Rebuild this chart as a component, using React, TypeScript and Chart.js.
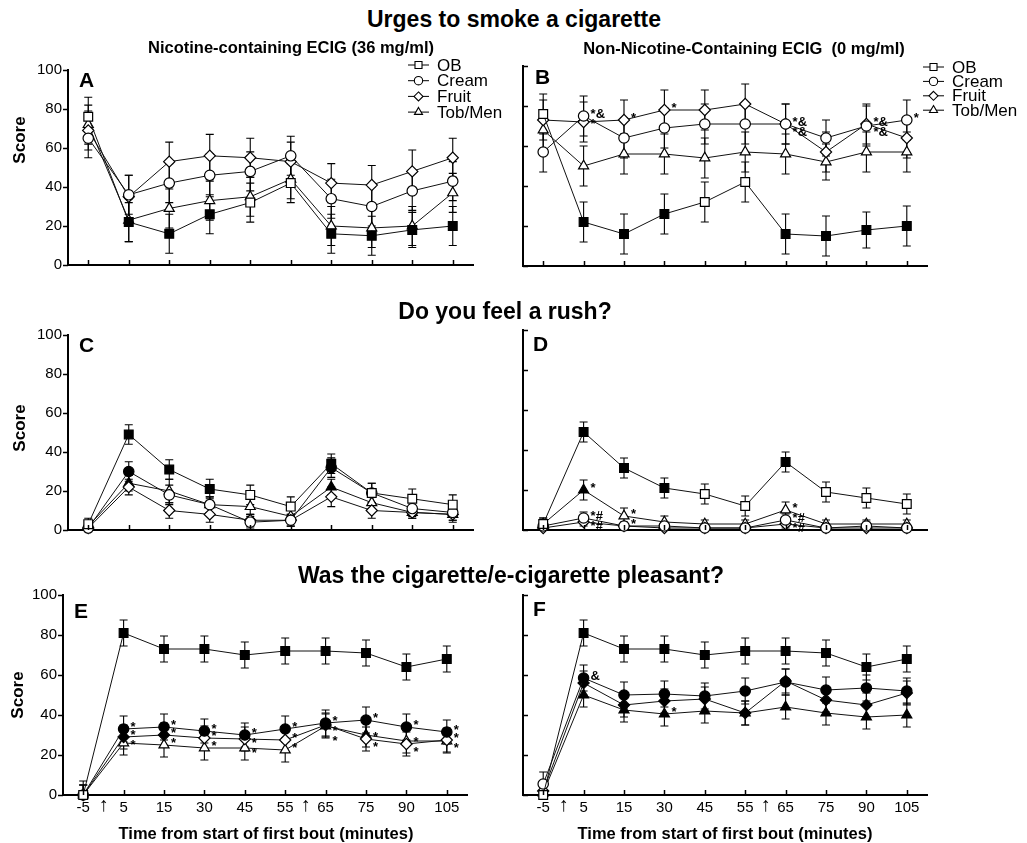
import React, { useEffect, useRef } from 'react';
import { Chart, registerables } from 'chart.js';

Chart.register(...registerables);

const FONT = "'Liberation Sans', Arial, Helvetica, sans-serif";

// ---------- categories ----------
const TIMES = ['-5', '5', '15', '30', '45', '55', '65', '75', '90', '105'];
const SERIES = ['OB', 'Cream', 'Fruit', 'Tob/Men'];
const Y_TICKS = [0, 20, 40, 60, 80, 100];

// ---------- Urges to smoke (A: 36 mg/ml, B: 0 mg/ml) ----------
const urgeOB = [76, 22, 16, 26, 32, 42, 16, 15, 18, 20];
const urgeOBSem = [10, 10, 10, 10, 10, 10, 10, 10, 9, 10];
const urgeOBFilled = [0, 1, 1, 1, 0, 0, 1, 1, 1, 1];

const urgeCream36 = [65, 36, 42, 46, 48, 56, 34, 30, 38, 43];
const urgeCream36Sem = [10, 10, 10, 11, 10, 10, 10, 10, 10, 10];
const urgeFruit36 = [69, 35, 53, 56, 55, 53, 42, 41, 48, 55];
const urgeFruit36Sem = [10, 11, 10, 11, 10, 10, 10, 10, 11, 10];
const urgeTob36 = [72, 23, 29, 33, 35, 44, 20, 19, 20, 37];
const urgeTob36Sem = [10, 11, 10, 10, 10, 10, 10, 10, 10, 10];

const urgeCream0 = [57, 75, 64, 69, 71, 71, 71, 64, 70, 73];
const urgeCream0Sem = [10, 10, 10, 10, 10, 10, 10, 9, 10, 10];
const urgeFruit0 = [73, 72, 73, 78, 78, 81, 71, 57, 71, 64];
const urgeFruit0Sem = [10, 10, 10, 10, 10, 10, 10, 10, 10, 10];
const urgeTob0 = [68, 50, 56, 56, 54, 57, 56, 52, 57, 57];
const urgeTob0Sem = [10, 10, 10, 10, 10, 10, 10, 9, 10, 10];

// ---------- Do you feel a rush? (C: 36 mg/ml, D: 0 mg/ml) ----------
const rushOB = [3, 49, 31, 21, 18, 12, 34, 19, 16, 13];
const rushOBSem = [3, 5, 5, 5, 5, 5, 5, 5, 5, 5];
const rushOBFilled = [0, 1, 1, 1, 0, 0, 1, 0, 0, 0];

const rushCream36 = [1, 30, 18, 13, 4, 5, 32, 19, 11, 9];
const rushCream36Sem = [2, 5, 5, 4, 3, 3, 5, 5, 4, 4];
const rushCream36Filled = [0, 1, 0, 0, 0, 0, 1, 0, 0, 0];
const rushFruit36 = [1, 22, 10, 8, 5, 5, 17, 10, 9, 8];
const rushFruit36Sem = [2, 4, 4, 4, 3, 3, 5, 4, 3, 3];
const rushTob36 = [2, 24, 20, 13, 12, 7, 22, 14, 9, 8];
const rushTob36Sem = [2, 4, 6, 4, 4, 3, 4, 4, 3, 4];
const rushTob36Filled = [0, 1, 0, 0, 0, 0, 1, 0, 0, 0];

const rushCream0 = [2, 6, 2, 2, 1, 1, 5, 1, 2, 1];
const rushCream0Sem = [2, 3, 2, 2, 1, 1, 3, 2, 2, 1];
const rushFruit0 = [1, 4, 2, 1, 1, 1, 3, 1, 1, 1];
const rushFruit0Sem = [1, 2, 1, 1, 1, 1, 2, 1, 1, 1];
const rushTob0 = [3, 20, 7, 4, 3, 3, 10, 3, 3, 3];
const rushTob0Sem = [3, 5, 4, 3, 2, 2, 4, 2, 2, 2];
const rushTob0Filled = [0, 1, 0, 0, 0, 0, 0, 0, 0, 0];

// ---------- Was it pleasant? (E: 36 mg/ml, F: 0 mg/ml) ----------
const pleasOB = [0, 81, 73, 73, 70, 72, 72, 71, 64, 68];
const pleasOBSem = [7, 6.5, 6.5, 6.5, 6.5, 6.5, 6.5, 6.5, 6.5, 6.5];
const pleasOBFilled = [0, 1, 1, 1, 1, 1, 1, 1, 1, 1];

const pleasCream36 = [0, 33, 34, 32, 30, 33, 36, 37.5, 34, 31.5];
const pleasCream36Sem = [5, 6.5, 6.5, 6, 6, 6.5, 6.5, 6.5, 6.5, 6];
const pleasCream36Filled = [0, 1, 1, 1, 1, 1, 1, 1, 1, 1];
const pleasFruit36 = [0, 29, 30, 28.5, 28, 27.5, 35, 28, 25.5, 27.5];
const pleasFruit36Sem = [5, 6, 6, 6, 6, 6, 6, 6, 6, 6];
const pleasFruit36Filled = [0, 1, 1, 0, 0, 0, 1, 0, 0, 0];
const pleasTob36 = [0, 26, 25, 23.5, 23.5, 22.5, 34.5, 30, 27, 27];
const pleasTob36Sem = [5, 6, 6, 6, 6, 6, 6, 6, 6, 6];
const pleasTob36Filled = [0, 0, 0, 0, 0, 0, 1, 1, 0, 0];

const pleasCream0 = [5.5, 58.5, 50, 50.5, 49.5, 52, 56.5, 52.5, 53.5, 52];
const pleasCream0Sem = [6, 6.5, 6.5, 6.5, 6.5, 6.5, 6.5, 6.5, 6.5, 6.5];
const pleasFruit0 = [2, 56, 45, 47, 48, 41, 57, 47.5, 45, 51];
const pleasFruit0Sem = [5, 6, 6, 6, 6, 6, 6, 6, 6, 6];
const pleasTob0 = [1, 50, 42.5, 40.5, 42, 41, 44, 41, 39, 40];
const pleasTob0Sem = [5, 6, 6, 6, 6, 6, 6, 6, 6, 6];
const pleas0Filled = [0, 1, 1, 1, 1, 1, 1, 1, 1, 1];

const OPEN = [0, 0, 0, 0, 0, 0, 0, 0, 0, 0];

// ---------- significance marks: [series, point, text] ----------
const notesB: [number, number, string][] = [
  [1, 1, '*&'], [2, 1, '*'], [2, 2, '*'], [2, 3, '*'],
  [2, 6, '*&'], [1, 6, '*&'], [2, 8, '*&'], [1, 8, '*&'], [1, 9, '*'],
];
const notesD: [number, number, string][] = [
  [3, 1, '*'], [1, 1, '*#'], [2, 1, '*#'], [3, 2, '*'], [1, 2, '*'],
  [3, 6, '*'], [1, 6, '*#'], [2, 6, '*#'],
];
const notesE: [number, number, string][] = [1, 2, 3].flatMap((k) =>
  [1, 2, 3, 4, 5, 6, 7, 8, 9].map((i) => [k, i, '*'] as [number, number, string])
);
const notesF: [number, number, string][] = [[1, 1, '&'], [3, 3, '*']];

// ---------- marker styles ----------
const STYLES = [
  { pointStyle: 'rect', radius: 6.2 },
  { pointStyle: 'circle', radius: 5.2 },
  { pointStyle: 'rectRot', radius: 5.6 },
  { pointStyle: 'triangle', radius: 5.8 },
];

function makeDatasets(values: number[][], sems: number[][], filled: number[][]) {
  return values.map((v, k) => ({
    label: SERIES[k],
    data: v,
    sem: sems[k],
    borderColor: '#111',
    borderWidth: 1,
    pointStyle: STYLES[k].pointStyle,
    pointRadius: STYLES[k].radius,
    pointHoverRadius: STYLES[k].radius,
    pointBackgroundColor: filled[k].map((f) => (f ? '#000' : '#fff')),
    pointBorderColor: '#000',
    pointBorderWidth: 1.2,
    tension: 0,
    fill: false,
    clip: false,
  }));
}

function drawMarker(ctx: CanvasRenderingContext2D, style: string, r: number, x: number, y: number) {
  ctx.beginPath();
  if (style === 'rect') {
    const s = r * Math.SQRT1_2;
    ctx.rect(x - s, y - s, 2 * s, 2 * s);
  } else if (style === 'circle') {
    ctx.arc(x, y, r, 0, Math.PI * 2);
  } else if (style === 'rectRot') {
    ctx.moveTo(x, y - r);
    ctx.lineTo(x + r, y);
    ctx.lineTo(x, y + r);
    ctx.lineTo(x - r, y);
    ctx.closePath();
  } else {
    for (let a = 0; a < 3; a++) {
      const ang = (a * 2 * Math.PI) / 3;
      const px = x + Math.sin(ang) * r;
      const py = y - Math.cos(ang) * r;
      if (a === 0) ctx.moveTo(px, py);
      else ctx.lineTo(px, py);
    }
    ctx.closePath();
  }
  ctx.fill();
  ctx.stroke();
}

const decoPlugin = {
  id: 'deco',
  beforeDatasetsDraw(chart: any) {
    const { ctx, scales } = chart;
    const xs = scales.x;
    const ys = scales.y;
    ctx.save();
    ctx.strokeStyle = '#000';
    ctx.lineWidth = 1.1;
    chart.data.datasets.forEach((ds: any) => {
      ds.data.forEach((v: number, i: number) => {
        const e = ds.sem ? ds.sem[i] : 0;
        if (!e) return;
        const px = xs.getPixelForValue(i);
        const hi = Math.min(100, v + e);
        const lo = Math.max(0, v - e);
        const top = ys.getPixelForValue(hi);
        const bot = ys.getPixelForValue(lo);
        ctx.beginPath();
        ctx.moveTo(px, top);
        ctx.lineTo(px, bot);
        ctx.moveTo(px - 4, top);
        ctx.lineTo(px + 4, top);
        if (lo > 0) {
          ctx.moveTo(px - 4, bot);
          ctx.lineTo(px + 4, bot);
        }
        ctx.stroke();
      });
    });
    ctx.restore();
  },
  afterDraw(chart: any, _args: any, opts: any) {
    const { ctx, chartArea: ca, scales } = chart;
    const xs = scales.x;
    const ys = scales.y;
    ctx.save();
    ctx.strokeStyle = '#000';
    ctx.lineWidth = 1.5;
    // x tick marks (pointing into the plot)
    for (let i = 0; i < TIMES.length; i++) {
      const px = Math.round(xs.getPixelForValue(i)) + 0.5;
      ctx.beginPath();
      ctx.moveTo(px, ca.bottom);
      ctx.lineTo(px, ca.bottom - 5);
      ctx.stroke();
    }
    // y tick marks
    Y_TICKS.forEach((v) => {
      const py = Math.round(ys.getPixelForValue(v)) + 0.5;
      ctx.beginPath();
      ctx.moveTo(ca.left, py);
      ctx.lineTo(opts.yTicksIn ? ca.left + 5 : ca.left - 5, py);
      ctx.stroke();
    });
    // arrows between categories
    if (opts.arrows) {
      ctx.fillStyle = '#000';
      ctx.font = `20px ${FONT}`;
      ctx.textAlign = 'center';
      ctx.textBaseline = 'middle';
      (opts.arrows as number[][]).forEach(([a, b]) => {
        const px = (xs.getPixelForValue(a) + xs.getPixelForValue(b)) / 2;
        ctx.fillText('\u2191', px, ca.bottom + 10);
      });
    }
    // significance notes
    if (opts.notes) {
      ctx.fillStyle = '#000';
      ctx.font = `bold 13px ${FONT}`;
      ctx.textAlign = 'left';
      ctx.textBaseline = 'middle';
      const used: Record<number, number[]> = {};
      (opts.notes as [number, number, string][]).forEach(([k, i, t]) => {
        const v = chart.data.datasets[k].data[i];
        const px = xs.getPixelForValue(i) + 7;
        let py = ys.getPixelForValue(v) - 2;
        const list = used[i] || (used[i] = []);
        list.forEach((u) => {
          if (Math.abs(u - py) < 7) py = u + 10;
        });
        list.push(py);
        ctx.fillText(t, px, py);
      });
    }
    // legend
    if (opts.legend) {
      const { x, y, dy } = opts.legend;
      ctx.font = `17px ${FONT}`;
      ctx.textAlign = 'left';
      ctx.textBaseline = 'middle';
      chart.data.datasets.forEach((ds: any, k: number) => {
        const yy = y + k * dy;
        ctx.strokeStyle = '#000';
        ctx.lineWidth = 1;
        ctx.beginPath();
        ctx.moveTo(x, yy);
        ctx.lineTo(x + 21, yy);
        ctx.stroke();
        ctx.fillStyle = '#fff';
        ctx.lineWidth = 1.1;
        drawMarker(ctx, STYLES[k].pointStyle, STYLES[k].radius * 0.8, x + 10.5, yy);
        ctx.fillStyle = '#000';
        ctx.fillText(ds.label, x + 29, yy + 1);
      });
    }
    ctx.restore();
  },
};

type PanelCfg = {
  canvas: { left: number; top: number; w: number; h: number };
  area: { left: number; top: number; right: number; bottom: number };
  datasets: any[];
  showY: boolean;
  showX: boolean;
  yTicksIn: boolean;
  notes?: [number, number, string][];
  legend?: { x: number; y: number; dy: number };
  arrows?: number[][];
};

function Panel({ cfg }: { cfg: PanelCfg }) {
  const ref = useRef<HTMLCanvasElement | null>(null);
  useEffect(() => {
    const { canvas, area } = cfg;
    const yW = area.left - canvas.left;
    const padTop = area.top - canvas.top;
    const padRight = canvas.w - (area.right - canvas.left);
    const xH = canvas.h - (area.bottom - canvas.top);
    const chart = new Chart(ref.current as HTMLCanvasElement, {
      type: 'line',
      data: { labels: TIMES, datasets: cfg.datasets },
      options: {
        animation: false,
        responsive: false,
        maintainAspectRatio: false,
        devicePixelRatio: 1,
        events: [],
        layout: { padding: { left: 0, top: padTop, right: padRight, bottom: 0 } },
        plugins: {
          legend: { display: false },
          tooltip: { enabled: false },
          deco: {
            yTicksIn: cfg.yTicksIn,
            notes: cfg.notes,
            legend: cfg.legend,
            arrows: cfg.arrows,
          },
        } as any,
        scales: {
          x: {
            type: 'category',
            offset: true,
            grid: { display: true, drawOnChartArea: false, drawTicks: false },
            border: { display: true, color: '#000', width: 2 },
            ticks: {
              display: cfg.showX,
              color: '#000',
              font: { size: 15, family: FONT },
              padding: 4,
              autoSkip: false,
              maxRotation: 0,
            },
            afterFit: (s: any) => {
              s.height = xH;
            },
          },
          y: {
            min: 0,
            max: 100,
            grid: { display: true, drawOnChartArea: false, drawTicks: false },
            border: { display: true, color: '#000', width: 2 },
            ticks: {
              display: cfg.showY,
              stepSize: 20,
              color: '#000',
              font: { size: 15, family: FONT },
              padding: 6,
            },
            afterFit: (s: any) => {
              s.width = yW;
            },
          },
        },
      } as any,
      plugins: [decoPlugin as any],
    });
    return () => chart.destroy();
  }, []);
  const { canvas } = cfg;
  return (
    <canvas
      ref={ref}
      width={canvas.w}
      height={canvas.h}
      style={{ position: 'absolute', left: canvas.left, top: canvas.top, width: canvas.w, height: canvas.h }}
    />
  );
}

function Txt({ x, y, size, bold, children, rotate }: any) {
  return (
    <div
      style={{
        position: 'absolute',
        left: x,
        top: y,
        transform: `translate(-50%, -50%)${rotate ? ' rotate(-90deg)' : ''}`,
        fontFamily: FONT,
        fontSize: size,
        fontWeight: bold ? 'bold' : 'normal',
        whiteSpace: 'pre',
        lineHeight: 1,
        color: '#000',
      }}
    >
      {children}
    </div>
  );
}

function Letter({ x, y, children }: any) {
  return (
    <div
      style={{
        position: 'absolute',
        left: x,
        top: y,
        fontFamily: FONT,
        fontSize: 21,
        fontWeight: 'bold',
        lineHeight: '21px',
        color: '#000',
      }}
    >
      {children}
    </div>
  );
}

const panels: PanelCfg[] = [
  {
    canvas: { left: 0, top: 55, w: 515, h: 225 },
    area: { left: 68, top: 65, right: 473, bottom: 265 },
    datasets: makeDatasets(
      [urgeOB, urgeCream36, urgeFruit36, urgeTob36],
      [urgeOBSem, urgeCream36Sem, urgeFruit36Sem, urgeTob36Sem],
      [urgeOBFilled, OPEN, OPEN, OPEN]
    ),
    showY: true,
    showX: false,
    yTicksIn: false,
    legend: { x: 408, y: 10, dy: 15.7 },
  },
  {
    canvas: { left: 515, top: 55, w: 512, h: 225 },
    area: { left: 523, top: 66, right: 927, bottom: 266 },
    datasets: makeDatasets(
      [urgeOB, urgeCream0, urgeFruit0, urgeTob0],
      [urgeOBSem, urgeCream0Sem, urgeFruit0Sem, urgeTob0Sem],
      [urgeOBFilled, OPEN, OPEN, OPEN]
    ),
    showY: false,
    showX: false,
    yTicksIn: true,
    notes: notesB,
    legend: { x: 408, y: 12, dy: 14.4 },
  },
  {
    canvas: { left: 0, top: 320, w: 515, h: 225 },
    area: { left: 68, top: 330, right: 473, bottom: 530 },
    datasets: makeDatasets(
      [rushOB, rushCream36, rushFruit36, rushTob36],
      [rushOBSem, rushCream36Sem, rushFruit36Sem, rushTob36Sem],
      [rushOBFilled, rushCream36Filled, OPEN, rushTob36Filled]
    ),
    showY: true,
    showX: false,
    yTicksIn: false,
  },
  {
    canvas: { left: 515, top: 320, w: 512, h: 225 },
    area: { left: 523, top: 330, right: 927, bottom: 530 },
    datasets: makeDatasets(
      [rushOB, rushCream0, rushFruit0, rushTob0],
      [rushOBSem, rushCream0Sem, rushFruit0Sem, rushTob0Sem],
      [rushOBFilled, OPEN, OPEN, rushTob0Filled]
    ),
    showY: false,
    showX: false,
    yTicksIn: true,
    notes: notesD,
  },
  {
    canvas: { left: 0, top: 580, w: 515, h: 245 },
    area: { left: 63, top: 594, right: 467, bottom: 795 },
    datasets: makeDatasets(
      [pleasOB, pleasCream36, pleasFruit36, pleasTob36],
      [pleasOBSem, pleasCream36Sem, pleasFruit36Sem, pleasTob36Sem],
      [pleasOBFilled, pleasCream36Filled, pleasFruit36Filled, pleasTob36Filled]
    ),
    showY: true,
    showX: true,
    yTicksIn: false,
    notes: notesE,
    arrows: [[0, 1], [5, 6]],
  },
  {
    canvas: { left: 515, top: 580, w: 512, h: 245 },
    area: { left: 523, top: 595, right: 927, bottom: 795 },
    datasets: makeDatasets(
      [pleasOB, pleasCream0, pleasFruit0, pleasTob0],
      [pleasOBSem, pleasCream0Sem, pleasFruit0Sem, pleasTob0Sem],
      [pleasOBFilled, pleas0Filled, pleas0Filled, pleas0Filled]
    ),
    showY: false,
    showX: true,
    yTicksIn: true,
    notes: notesF,
    arrows: [[0, 1], [5, 6]],
  },
];

export default function App() {
  return (
    <div style={{ position: 'absolute', left: 0, top: 0, width: 1027, height: 843, background: '#fff', overflow: 'hidden' }}>
      {panels.map((p, i) => (
        <Panel key={i} cfg={p} />
      ))}
      <Txt x={514} y={19} size={23} bold>Urges to smoke a cigarette</Txt>
      <Txt x={291} y={47} size={16.5} bold>Nicotine-containing ECIG (36 mg/ml)</Txt>
      <Txt x={744} y={48} size={16.5} bold>{'Non-Nicotine-Containing ECIG  (0 mg/ml)'}</Txt>
      <Txt x={505} y={311} size={23} bold>Do you feel a rush?</Txt>
      <Txt x={511} y={575} size={23} bold>Was the cigarette/e-cigarette pleasant?</Txt>

      <Letter x={79} y={69}>A</Letter>
      <Letter x={535} y={66}>B</Letter>
      <Letter x={79} y={334}>C</Letter>
      <Letter x={533} y={333}>D</Letter>
      <Letter x={74} y={600}>E</Letter>
      <Letter x={533} y={598}>F</Letter>

      <Txt x={19} y={140} size={17} bold rotate>Score</Txt>
      <Txt x={19} y={428} size={17} bold rotate>Score</Txt>
      <Txt x={17} y={695} size={17} bold rotate>Score</Txt>

      <Txt x={266} y={833} size={16.5} bold>Time from start of first bout (minutes)</Txt>
      <Txt x={725} y={833} size={16.5} bold>Time from start of first bout (minutes)</Txt>
    </div>
  );
}
